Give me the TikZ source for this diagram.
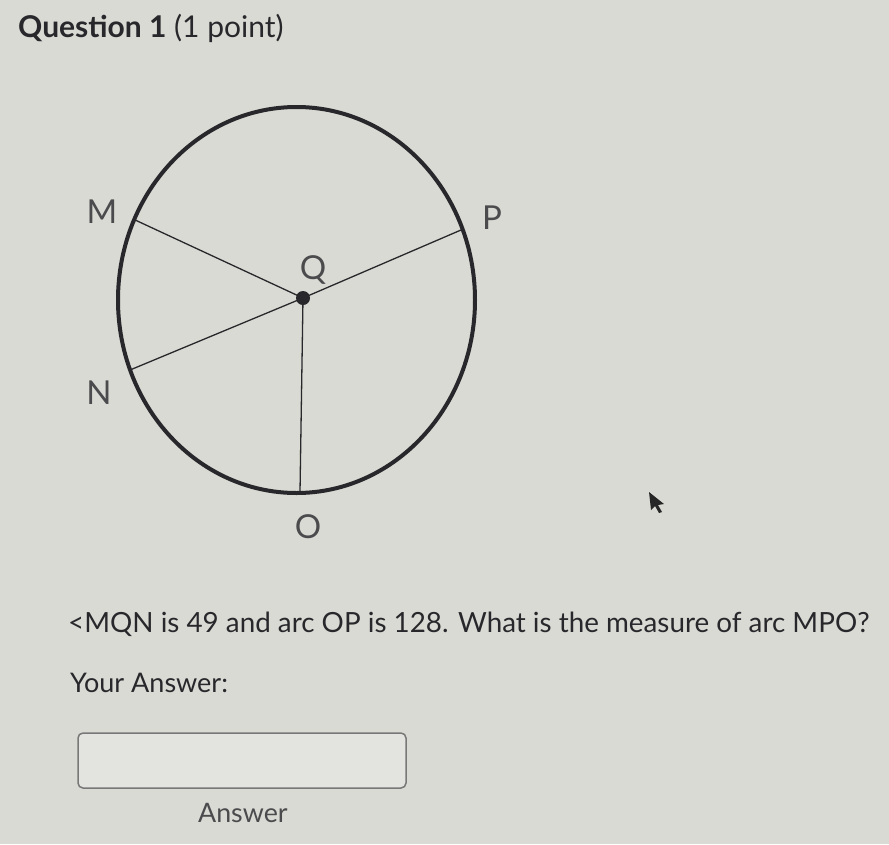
\documentclass[tikz,border=0pt]{standalone}
\usepackage{fontspec}
\setmainfont{Lato}
\usetikzlibrary{shapes.geometric}
\definecolor{bgc}{RGB}{218,218,212}
\definecolor{ink}{RGB}{40,40,44}
\definecolor{lbl}{RGB}{75,75,78}
\definecolor{boxc}{RGB}{120,120,120}
\tikzset{
  pt/.style={font=\fontsize{33}{33}\selectfont, text=lbl, inner sep=0pt},
  txt/.style={inner sep=0pt, anchor=base west, text=ink},
  radius line/.style={draw=ink, line width=1.3pt},
}
\begin{document}
\begin{tikzpicture}[x=1pt,y=-1pt]
\fill[bgc] (0,0) rectangle (889,844);
\useasboundingbox (0,0) rectangle (889,844);
% title
\node[txt, font=\fontsize{30}{30}\selectfont] (title) at (18,37) {\textbf{Question 1} (1 point)};
% circle
\node[draw=ink, line width=4pt, ellipse, minimum width=357pt, minimum height=386pt, inner sep=0pt] (circ) at (296.5,300) {};
\coordinate (M) at (133,219);
\coordinate (N) at (130,370);
\coordinate (P) at (461,230);
\coordinate (O) at (300,492);
\node[circle, fill=ink, minimum size=14pt, inner sep=0pt] (Q) at (303,298) {};
\draw[radius line] (M) -- (Q.center) -- (P);
\draw[radius line] (N) -- (Q.center) -- (O);
\node[pt] (lM) at (102,212) {M};
\node[pt] (lN) at (99,393) {N};
\node[pt] (lP) at (492,218) {P};
\node[pt] (lQ) at (313,270) {Q};
\node[pt] (lO) at (308,527) {O};
% cursor
\fill[black!85] (649,492) -- (651,510) -- (655,506) -- (659,513) -- (662,512) -- (658,505) -- (664,504) -- cycle;
% question
\node[txt, font=\fontsize{27.8}{27.8}\selectfont] (q) at (68,632) {<MQN is 49 and arc OP is 128. What is the measure of arc MPO?};
\node[txt, font=\fontsize{27}{27}\selectfont] (ya) at (70,692) {Your Answer:};
\draw[draw=boxc, line width=1.5pt, rounded corners=5pt, fill=bgc!75!white] (78,733) rectangle (406,788);
\node[txt, font=\fontsize{26.8}{26.8}\selectfont, text=lbl] (ans) at (198,822) {Answer};
\end{tikzpicture}
\end{document}
